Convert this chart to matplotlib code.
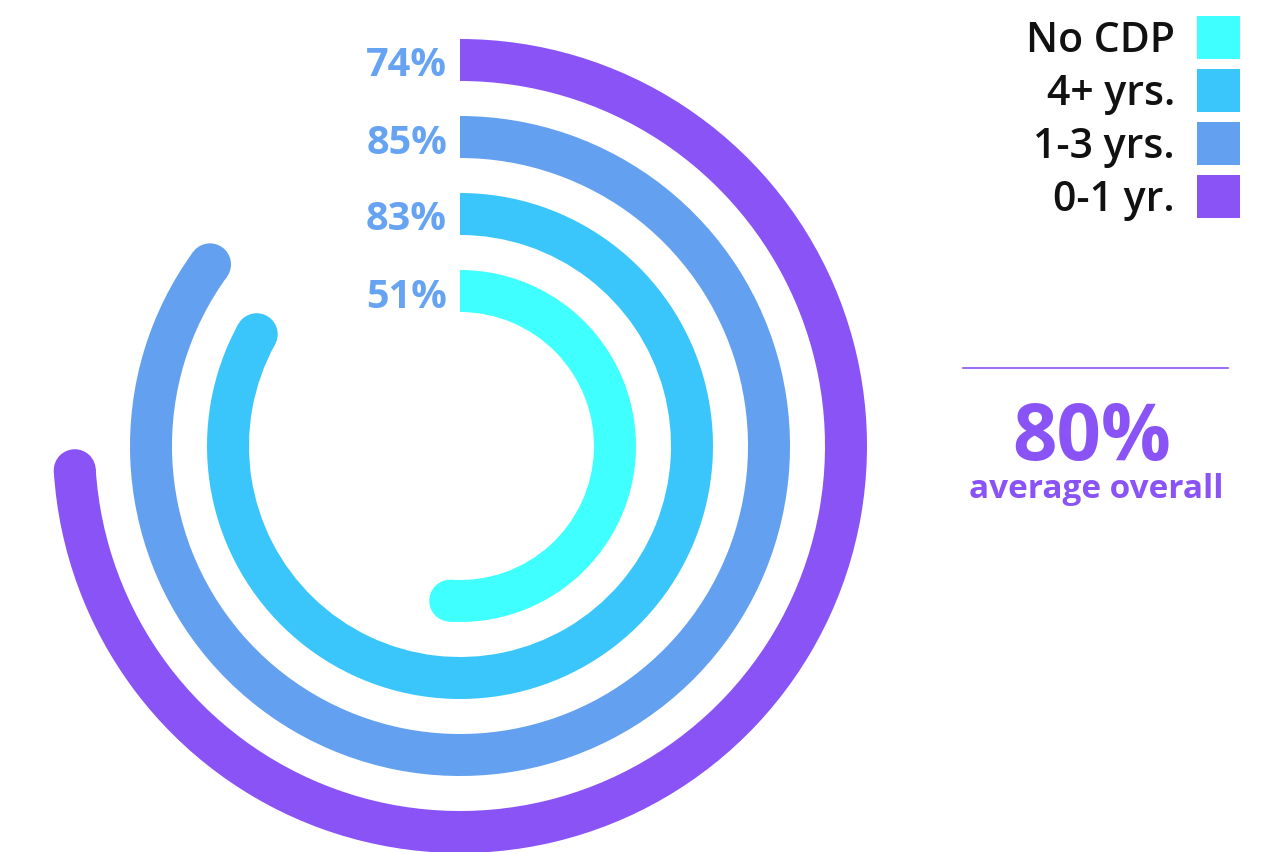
import numpy as np
import matplotlib
matplotlib.use("Agg")
import matplotlib.pyplot as plt
from matplotlib.patches import Wedge, Circle, Rectangle

# data, outer ring first
categorias = ["0-1 yr.", "1-3 yrs.", "4+ yrs.", "No CDP"]
valores = [74, 85, 83, 51]
colores = ["#8A53F6", "#63A0F0", "#3BC6FB", "#3FFFFF"]
promedio = 80

plt.rcParams['font.family'] = ['Open Sans', 'DejaVu Sans']

fig = plt.figure(figsize=(12.66, 8.52), dpi=100)
ax = fig.add_axes([0, 0, 1, 1])
ax.set_xlim(0, 1266)
ax.set_ylim(852, 0)
ax.set_aspect('equal')
ax.axis('off')

cx, cy = 460, 446
ancho = 42
radios = [386, 309, 232, 155]

for val, col, r in zip(valores, colores, radios):
    theta2 = -90 + val * 3.6
    ax.add_patch(Wedge((cx, cy), r + ancho / 2, -90, theta2, width=ancho, color=col, lw=0))
    t = np.radians(theta2)
    ax.add_patch(Circle((cx + r * np.cos(t), cy + r * np.sin(t)), ancho / 2, color=col, lw=0))
    ax.text(447, cy - r + 16.5, f"{val}%", ha='right', va='baseline', fontsize=28.5,
            fontweight='bold', color="#66A3F2")

# leyenda (de arriba abajo: anillo interior primero)
y0 = 37.5
for i, (cat, col) in enumerate(zip(categorias[::-1], colores[::-1])):
    y = y0 + i * 53
    ax.add_patch(Rectangle((1197, y - 21.5), 43, 43, color=col, lw=0))
    ax.text(1175, y + 14.5, cat, ha='right', va='baseline', fontsize=29.5,
            fontweight='semibold', color="#111111")

ax.plot([963, 1228], [368, 368], color="#8A53F6", lw=1.2)
ax.text(1092, 460, f"{promedio}%", ha='center', va='baseline', fontsize=56,
        fontweight='bold', color="#8A53F6")
ax.text(1096, 498, "average overall", ha='center', va='baseline', fontsize=24,
        fontweight='bold', color="#8A53F6")

fig.savefig("out.png", dpi=100)
